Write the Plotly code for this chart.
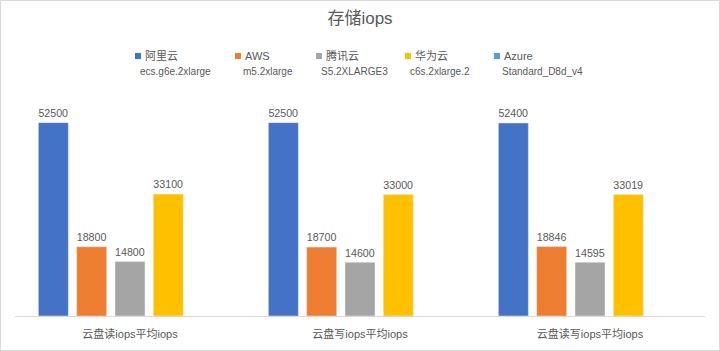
import plotly.graph_objects as go

categories = ["云盘读iops平均iops", "云盘写iops平均iops", "云盘读写iops平均iops"]
series_names = ["阿里云", "AWS", "腾讯云", "华为云", "Azure"]
series_sub = ["ecs.g6e.2xlarge", "m5.2xlarge", "S5.2XLARGE3", "c6s.2xlarge.2", "Standard_D8d_v4"]
aliyun = [52500, 52500, 52400]
aws = [18800, 18700, 18846]
tencent = [14800, 14600, 14595]
huawei = [33100, 33000, 33019]
azure = [None, None, None]
values = [aliyun, aws, tencent, huawei, azure]
colors = ["#4472C4", "#ED7D31", "#A5A5A5", "#FFC000", "#5B9BD5"]

W, H = 720, 351
L, R, T, B = 15, 15, 95, 35
pw, ph = W - L - R, H - T - B

def px(x):
    return (x - L) / pw

def py(y):
    return (H - B - y) / ph

FONT = "Liberation Sans, Noto Sans CJK SC, sans-serif"
GREY = "#595959"

fig = go.Figure()
for name, vals, col in zip(series_names, values, colors):
    fig.add_trace(go.Bar(
        x=categories, y=vals, name=name, marker_color=col,
        text=[None if v is None else str(v) for v in vals],
        textposition="outside", cliponaxis=False,
        textfont=dict(size=12, color=GREY, family=FONT),
        showlegend=False,
    ))

# manual legend
leg_x = [135, 235, 316, 405, 494]
sub_x = [139, 242, 320, 409, 501]
shapes = []
annotations = []
for i, (n, s, c) in enumerate(zip(series_names, series_sub, colors)):
    x0 = leg_x[i]
    shapes.append(dict(type="rect", xref="paper", yref="paper",
                       x0=px(x0), x1=px(x0 + 6), y0=py(59), y1=py(53),
                       fillcolor=c, line=dict(width=0)))
    annotations.append(dict(xref="paper", yref="paper", x=px(x0 + 8), y=py(56),
                            text=n, showarrow=False, xanchor="left", yanchor="middle",
                            font=dict(size=11, color=GREY, family=FONT)))
    annotations.append(dict(xref="paper", yref="paper", x=px(sub_x[i] - 1), y=py(72),
                            text=s, showarrow=False, xanchor="left", yanchor="middle",
                            font=dict(size=10, color=GREY, family=FONT)))

shapes.append(dict(type="rect", xref="paper", yref="paper",
                   x0=px(0.5), x1=px(W - 0.5), y0=py(H - 0.5), y1=py(0.5),
                   line=dict(color="#D9D9D9", width=1), fillcolor="rgba(0,0,0,0)"))

fig.update_layout(
    width=W, height=H,
    margin=dict(l=L, r=R, t=T, b=B),
    paper_bgcolor="white", plot_bgcolor="white",
    barmode="group", bargap=0.167, bargroupgap=0.217,
    title=dict(text="存储iops", x=0.5, xanchor="center", y=1 - 18 / H, yanchor="middle",
               font=dict(size=17, color=GREY, family=FONT)),
    shapes=shapes, annotations=annotations,
    font=dict(family=FONT, color=GREY, size=11),
)
fig.update_xaxes(showline=True, linecolor="#D9D9D9", linewidth=1, ticks="",
                 ticklabelstandoff=8,
                 tickfont=dict(size=11, color=GREY, family=FONT), showgrid=False)
fig.update_yaxes(range=[0, 60000], visible=False, showgrid=False)

fig.write_html("out.html")
